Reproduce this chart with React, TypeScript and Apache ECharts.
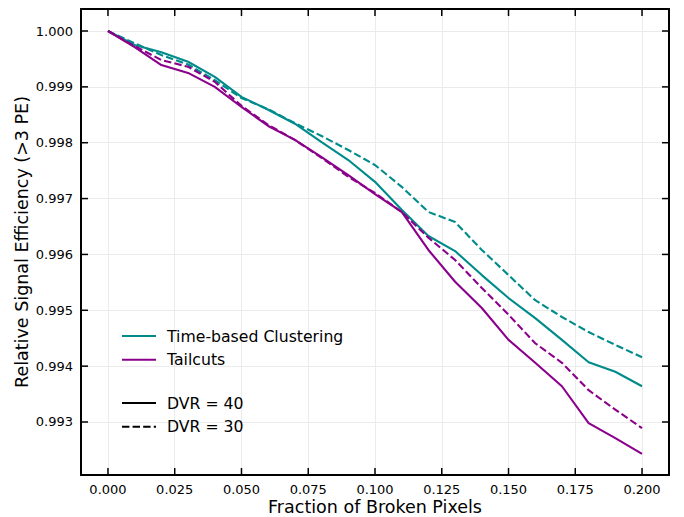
import React, { useEffect, useRef } from "react";
import * as echarts from "echarts";

const xValues = [0, 0.01, 0.02, 0.03, 0.04, 0.05, 0.06, 0.07, 0.08, 0.09, 0.1, 0.11, 0.12, 0.13, 0.14, 0.15, 0.16, 0.17, 0.18, 0.19, 0.2];
const tbcDvr40 = [1.0, 0.99975, 0.99962, 0.99945, 0.99918, 0.99882, 0.99859, 0.99834, 0.99801, 0.99769, 0.9973, 0.9968, 0.99633, 0.99606, 0.99563, 0.99522, 0.99486, 0.99447, 0.99407, 0.9939, 0.99364];
const tbcDvr30 = [1.0, 0.99978, 0.99957, 0.9994, 0.99912, 0.9988, 0.9986, 0.99835, 0.99812, 0.99787, 0.9976, 0.99721, 0.99676, 0.99658, 0.99608, 0.99563, 0.99518, 0.99488, 0.99461, 0.99438, 0.99416];
const tailDvr40 = [1.0, 0.99971, 0.99939, 0.99925, 0.999, 0.99864, 0.9983, 0.99805, 0.99774, 0.99742, 0.99708, 0.99676, 0.99608, 0.99551, 0.99504, 0.99447, 0.99406, 0.99364, 0.99298, 0.99271, 0.99243];
const tailDvr30 = [1.0, 0.99973, 0.99948, 0.99936, 0.99909, 0.99866, 0.99832, 0.99805, 0.99773, 0.99739, 0.9971, 0.99676, 0.9963, 0.9959, 0.9954, 0.99492, 0.99441, 0.99406, 0.99357, 0.99322, 0.99289];
const xTicks = [0, 0.025, 0.05, 0.075, 0.1, 0.125, 0.15, 0.175, 0.2];
const yTicks = [0.993, 0.994, 0.995, 0.996, 0.997, 0.998, 0.999, 1.0];

const TEAL = "#008b8b";
const PURPLE = "#8b008b";
const FONT = "DejaVu Sans";

export default function App() {
  const ref = useRef<HTMLDivElement>(null);
  useEffect(() => {
    if (!ref.current) return;
    const chart = echarts.init(ref.current, null, { renderer: "svg" });
    const zip = (ys: number[]) => xValues.map((x, i) => [x, ys[i]]);
    const xMin = -0.0101, xMax = 0.2101, yMin = 0.992051, yMax = 1.000394;
    const TL = 7;
    const tickLine = { stroke: "#000", lineWidth: 1.5 };
    const axisLine = { show: true, onZero: false, lineStyle: { color: "#000", width: 2 } };
    const lineSeries = (name: string, data: number[], color: string, dashed: boolean) => ({
      type: "line",
      name,
      data: zip(data),
      symbol: "none",
      xAxisIndex: 0,
      yAxisIndex: 0,
      lineStyle: { color, width: 2.1, type: dashed ? [7.4, 3.2] : "solid" },
      itemStyle: { color },
    });
    const legendBase = {
      orient: "vertical",
      left: 121,
      padding: 0,
      itemWidth: 34,
      itemHeight: 18,
      itemGap: 7.8,
      selectedMode: false,
      itemStyle: { opacity: 0 },
      textStyle: { fontSize: 15.7, color: "#000", fontFamily: FONT, padding: [0, 0, 0, 6] },
    };
    chart.setOption({
      animation: false,
      backgroundColor: "#fff",
      textStyle: { fontFamily: FONT },
      grid: { left: 81, top: 9, right: 15, bottom: 42, containLabel: false, outerBoundsMode: "none" },
      xAxis: [
        {
          type: "value",
          min: xMin,
          max: xMax,
          position: "bottom",
          name: "Fraction of Broken Pixels",
          nameLocation: "middle",
          nameGap: 23,
          nameMoveOverlap: false,
          nameTextStyle: { fontSize: 17.5, color: "#000", fontFamily: FONT, lineHeight: 18 },
          axisLine,
          axisTick: { show: false, customValues: xTicks },
          axisLabel: {
            customValues: xTicks,
            formatter: (v: number) => v.toFixed(3),
            fontSize: 13,
            color: "#000",
            margin: 8,
            fontFamily: FONT,
          },
          splitLine: { show: true, lineStyle: { color: "#ebebeb", width: 1 } },
        },
        {
          type: "value",
          min: xMin,
          max: xMax,
          position: "top",
          axisLine,
          axisTick: { show: false },
          axisLabel: { show: false },
          splitLine: { show: false },
        },
      ],
      yAxis: [
        {
          type: "value",
          min: yMin,
          max: yMax,
          position: "left",
          name: "Relative Signal Efficiency (>3 PE)",
          nameLocation: "middle",
          nameGap: 50,
          nameMoveOverlap: false,
          nameTextStyle: { fontSize: 17.5, color: "#000", fontFamily: FONT, lineHeight: 18 },
          axisLine,
          axisTick: { show: false, customValues: yTicks },
          axisLabel: {
            customValues: yTicks,
            formatter: (v: number) => v.toFixed(3),
            fontSize: 13,
            color: "#000",
            margin: 8,
            fontFamily: FONT,
          },
          splitLine: { show: true, lineStyle: { color: "#ebebeb", width: 1 } },
        },
        {
          type: "value",
          min: yMin,
          max: yMax,
          position: "right",
          axisLine,
          axisTick: { show: false },
          axisLabel: { show: false },
          splitLine: { show: false },
        },
      ],
      legend: [
        { ...legendBase, data: ["Time-based Clustering", "Tailcuts"], top: 328 },
        { ...legendBase, data: ["DVR = 40", "DVR = 30"], top: 395 },
      ],
      series: [
        lineSeries("Time-based Clustering", tbcDvr40, TEAL, false),
        lineSeries("Time-based Clustering", tbcDvr30, TEAL, true),
        lineSeries("Tailcuts", tailDvr40, PURPLE, false),
        lineSeries("Tailcuts", tailDvr30, PURPLE, true),
        { type: "line", name: "DVR = 40", data: [], symbol: "none", lineStyle: { color: "#000", width: 2.1, type: "solid" }, itemStyle: { color: "#000" } },
        { type: "line", name: "DVR = 30", data: [], symbol: "none", lineStyle: { color: "#000", width: 2.1, type: [7.4, 3.2] }, itemStyle: { color: "#000" } },
        {
          type: "custom",
          name: "xticks",
          silent: true,
          z: 10,
          data: xTicks.map((v) => [v, yMin]),
          renderItem: (params: any, api: any) => {
            const p = api.coord([api.value(0), api.value(1)]);
            const cs = params.coordSys;
            const b = cs.y + cs.height;
            return {
              type: "group",
              children: [
                { type: "line", shape: { x1: p[0], y1: b, x2: p[0], y2: b - TL }, style: tickLine },
                { type: "line", shape: { x1: p[0], y1: cs.y, x2: p[0], y2: cs.y + TL }, style: tickLine },
              ],
            };
          },
        },
        {
          type: "custom",
          name: "yticks",
          silent: true,
          z: 10,
          data: yTicks.map((v) => [xMin, v]),
          renderItem: (params: any, api: any) => {
            const p = api.coord([api.value(0), api.value(1)]);
            const cs = params.coordSys;
            const r = cs.x + cs.width;
            return {
              type: "group",
              children: [
                { type: "line", shape: { x1: cs.x, y1: p[1], x2: cs.x + TL, y2: p[1] }, style: tickLine },
                { type: "line", shape: { x1: r, y1: p[1], x2: r - TL, y2: p[1] }, style: tickLine },
              ],
            };
          },
        },
      ],
    });
    return () => chart.dispose();
  }, []);
  return <div ref={ref} style={{ width: 684, height: 517, position: "absolute", left: 0, top: 0 }} />;
}
